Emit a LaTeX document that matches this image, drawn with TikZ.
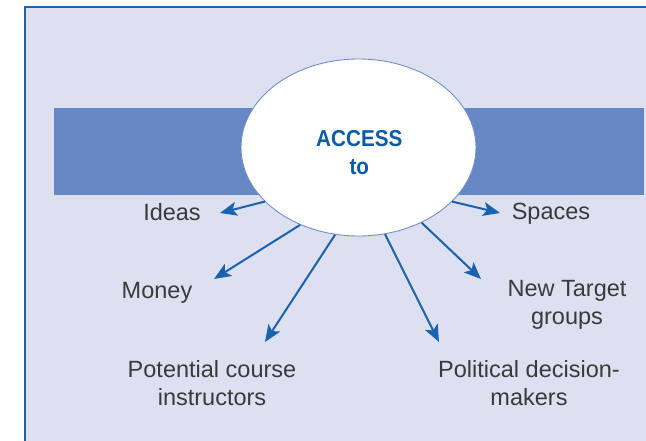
\documentclass[tikz,border=0pt]{standalone}
\usepackage{fontspec}
\setmainfont{Liberation Sans}
\newfontfamily\accfont[FakeStretch=0.9]{Liberation Sans}
\usetikzlibrary{shapes.geometric,arrows.meta}
\definecolor{bgL}{HTML}{DCE0F1}
\definecolor{frameB}{HTML}{1B64B0}
\definecolor{barB}{HTML}{6686C4}
\definecolor{arrB}{HTML}{1A62AD}
\definecolor{ellB}{HTML}{7090CC}
\definecolor{accB}{HTML}{0B5CA8}
\definecolor{labG}{HTML}{3A3A3A}
\tikzset{
  lab/.style={inner sep=0pt, text=labG, align=center, font=\fontsize{23.5}{28}\selectfont},
  conn/.style={draw=arrB, line width=2pt, -{Stealth[length=17pt,width=14pt,inset=4pt]}},
}
\begin{document}
\begin{tikzpicture}[x=1pt,y=-1pt]
\useasboundingbox (0,0) rectangle (646,440);
\clip (0,0) rectangle (646,440);
% frame
\path[fill=bgL, draw=frameB, line width=2pt] (25,7) rectangle (680,480);
% bar
\fill[barB] (54,108) rectangle (644,195);
% ellipse
\node[ellipse, draw=ellB, line width=0.9pt, fill=white, minimum width=235pt, minimum height=177pt, inner sep=0pt] (acc) at (358.5,147.5) {};
\node[inner sep=0pt, text=accB, align=center, font=\accfont\bfseries\fontsize{23}{28}\selectfont] (acctext) at (359.3,153) {ACCESS\\to};
% labels
\node[lab, anchor=base] (ideas) at (172,220) {Ideas};
\node[lab, anchor=base] (money) at (157,298) {Money};
\node[lab, anchor=base] (spaces) at (551,219) {Spaces};
\node[lab, anchor=north] (potential) at (212,360) {Potential course\\instructors};
\node[lab, anchor=north] (newtarget) at (567,280) {New Target\\groups};
\node[lab, anchor=north] (political) at (529,360) {Political decision-\\makers};
% arrow tips
\coordinate (tIdeas) at (220,213);
\coordinate (tMoney) at (214,279);
\coordinate (tPot) at (265,342);
\coordinate (tPol) at (439,342);
\coordinate (tNew) at (481,279);
\coordinate (tSpaces) at (500,213);
% connectors
\draw[conn] (acc.210) -- (tIdeas);
\draw[conn] (acc.233) -- (tMoney);
\draw[conn] (acc.255.3) -- (tPot);
\draw[conn] (acc.287.4) -- (tPol);
\draw[conn] (acc.310) -- (tNew);
\draw[conn] (acc.330.5) -- (tSpaces);
\end{tikzpicture}
\end{document}
